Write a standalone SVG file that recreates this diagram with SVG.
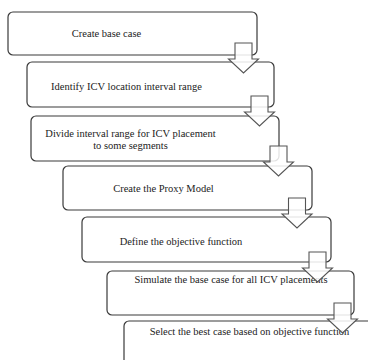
<svg xmlns="http://www.w3.org/2000/svg" xmlns:xlink="http://www.w3.org/1999/xlink" width="368" height="360" viewBox="0 0 368 360">
<style>
.box{fill:#fff;stroke:#3a3a3a;stroke-width:1.2}
.lbl{font-family:"Liberation Serif","Times New Roman",serif;font-size:10.5px;fill:#222;text-anchor:middle}
.arr{fill:#fff;fill-opacity:0.85;stroke:#555;stroke-width:1.1;stroke-linejoin:miter}
</style>
<defs>
<path id="ar" d="M-8.5,0 h17 v16 h6.5 l-15,14 l-15,-14 h6.5 z"/>
</defs>
<rect width="368" height="360" fill="#fff"/>
<g id="n1"><rect class="box" x="8" y="12" width="249" height="43" rx="5"/><text class="lbl" x="106.5" y="37">Create base case</text></g>
<g id="n2"><rect class="box" x="27" y="62" width="247" height="45" rx="5"/><text class="lbl" x="126.5" y="90">Identify ICV location interval range</text></g>
<g id="n3"><rect class="box" x="31" y="116" width="248" height="45" rx="5"/><text class="lbl" x="130.5" y="137">Divide interval range for ICV placement</text><text class="lbl" x="130.5" y="149">to some segments</text></g>
<g id="n4"><rect class="box" x="63" y="166" width="249" height="44" rx="5"/><text class="lbl" x="163.5" y="192">Create the Proxy Model</text></g>
<g id="n5"><rect class="box" x="82" y="217" width="249" height="45" rx="5"/><text class="lbl" x="181" y="245">Define the objective function</text></g>
<g id="n6"><rect class="box" x="107" y="271" width="247" height="44" rx="5"/><text class="lbl" x="231" y="283">Simulate the base case for all ICV placements</text></g>
<g id="n7"><rect class="box" x="124" y="321" width="260" height="60" rx="5"/><text class="lbl" x="249.5" y="335">Select the best case based on objective function</text></g>
<g id="connectors">
<use href="#ar" xlink:href="#ar" class="arr" x="243.5" y="43"/>
<use href="#ar" xlink:href="#ar" class="arr" x="259.5" y="96"/>
<use href="#ar" xlink:href="#ar" class="arr" x="278.5" y="146"/>
<use href="#ar" xlink:href="#ar" class="arr" x="297" y="198"/>
<use href="#ar" xlink:href="#ar" class="arr" x="317.5" y="252"/>
<use href="#ar" xlink:href="#ar" class="arr" x="342.5" y="303"/>
</g>
</svg>
